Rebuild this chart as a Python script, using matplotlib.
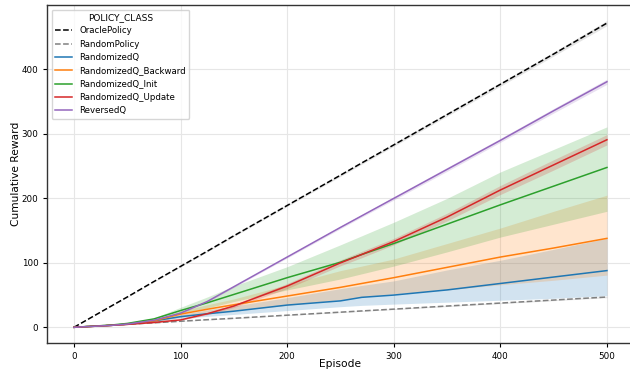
import matplotlib
matplotlib.use("Agg")
import matplotlib.pyplot as plt

episodes = [0, 35, 50, 75, 100, 125, 150, 200, 250, 270, 300, 350, 400, 450, 500]

oracle_mean = [0, 33, 47, 71, 94.5, 118, 142, 189, 236, 255, 283, 330, 377, 424, 472]
oracle_low  = [0, 32.7, 46.6, 70.4, 93.7, 117, 140.8, 187.5, 234, 253, 280.8, 327.5, 374, 420.8, 468]
oracle_high = [0, 33.3, 47.4, 71.6, 95.3, 119, 143.2, 190.5, 238, 257, 285.2, 332.5, 380, 427.2, 476]

random_mean = [0, 3.3, 4.7, 7, 9.4, 11.8, 14, 18.8, 23.5, 25.4, 28.2, 33, 37.6, 42.3, 47]
random_low  = [0, 3.2, 4.6, 6.8, 9.1, 11.4, 13.6, 18.3, 22.9, 24.8, 27.5, 32.2, 36.7, 41.3, 45.9]
random_high = [0, 3.4, 4.8, 7.2, 9.7, 12.2, 14.4, 19.3, 24.1, 26.0, 28.9, 33.8, 38.5, 43.3, 48.1]

rq_mean = [0, 3, 5, 10, 16.5, 21, 25, 34.5, 41, 46.5, 50, 58, 68, 78, 88]
rq_low  = [0, 2.8, 4.5, 8.5, 14, 17, 20, 26, 32, 34, 36, 39, 42, 45, 49]
rq_high = [0, 3.2, 5.5, 11.5, 20, 27, 33, 46, 60, 65, 72, 89, 104, 121, 138]

rqb_mean = [0, 3, 5, 10, 20.5, 28, 35, 48.5, 62, 68, 77, 93, 109, 123, 138]
rqb_low  = [0, 2.8, 4.5, 8.5, 16, 22, 26, 34, 43, 47, 52, 58, 66, 73, 81]
rqb_high = [0, 3.2, 5.5, 11.5, 25, 35, 44, 66, 88, 95, 106, 130, 154, 180, 205]

rqi_mean = [0, 3.5, 6, 13, 26, 38, 51, 77, 101, 113, 130, 160, 190, 219, 248]
rqi_low  = [0, 3.3, 5.4, 11.5, 22, 30, 40, 58, 75, 83, 95, 117, 140, 160, 180]
rqi_high = [0, 3.7, 6.6, 14.5, 31, 47, 64, 94, 128, 142, 163, 200, 241, 276, 311]

rqu_mean = [0, 3, 4.5, 7.5, 11.5, 21, 33, 64, 100, 113, 133, 171, 213, 252, 291]
rqu_low  = [0, 2.9, 4.3, 7.1, 10.5, 19.5, 30.8, 60, 95.5, 108, 128, 165, 206, 244, 283]
rqu_high = [0, 3.1, 4.7, 7.9, 12.5, 22.5, 35.2, 68, 104.5, 118, 138, 177, 220, 260, 299]

rev_mean = [0, 3, 5, 11, 22, 40, 63, 109, 155, 173, 200, 245, 290, 336, 381]
rev_low  = [0, 2.9, 4.8, 10.6, 21.3, 39, 61.8, 107.5, 153, 171, 197.5, 242, 287, 332.5, 377]
rev_high = [0, 3.1, 5.2, 11.4, 22.7, 41, 64.2, 110.5, 157, 175, 202.5, 248, 293, 339.5, 385]

labels = ["OraclePolicy", "RandomPolicy", "RandomizedQ", "RandomizedQ_Backward",
          "RandomizedQ_Init", "RandomizedQ_Update", "ReversedQ"]
series = [
    (oracle_mean, oracle_low, oracle_high, "black", "--", "gray"),
    (random_mean, random_low, random_high, "gray", "--", "gray"),
    (rq_mean, rq_low, rq_high, "#1f77b4", "-", "#1f77b4"),
    (rqb_mean, rqb_low, rqb_high, "#ff7f0e", "-", "#ff7f0e"),
    (rqi_mean, rqi_low, rqi_high, "#2ca02c", "-", "#2ca02c"),
    (rqu_mean, rqu_low, rqu_high, "#d62728", "-", "#d62728"),
    (rev_mean, rev_low, rev_high, "#9467bd", "-", "#9467bd"),
]

fig = plt.figure(figsize=(6.3, 3.73), dpi=100)
ax = fig.add_axes([0.0751, 0.0812, 0.9306, 0.9046])

for (m, lo, hi, c, ls, fc), lab in zip(series, labels):
    ax.fill_between(episodes, lo, hi, color=fc, alpha=0.2, linewidth=0)
    ax.plot(episodes, m, color=c, linestyle=ls, linewidth=1.1, label=lab)

ax.set_xlim(-25, 525)
ax.set_ylim(-23.9, 499.6)
ax.set_xticks([0, 100, 200, 300, 400, 500])
ax.set_yticks([0, 100, 200, 300, 400])
ax.tick_params(labelsize=6.3, length=3, width=0.8)
ax.grid(True, color="#e6e6e6", linewidth=0.8)
ax.set_axisbelow(True)
for s in ax.spines.values():
    s.set_color("#333333")
    s.set_linewidth(1.0)
ax.set_xlabel("Episode", fontsize=7.7, labelpad=-1)
ax.set_ylabel("Cumulative Reward", fontsize=7.7, labelpad=0.5)

leg = ax.legend(title="POLICY_CLASS", loc="upper left", fontsize=6.2,
                title_fontsize=6.5, framealpha=0.8)

fig.savefig("out.png", dpi=100)
